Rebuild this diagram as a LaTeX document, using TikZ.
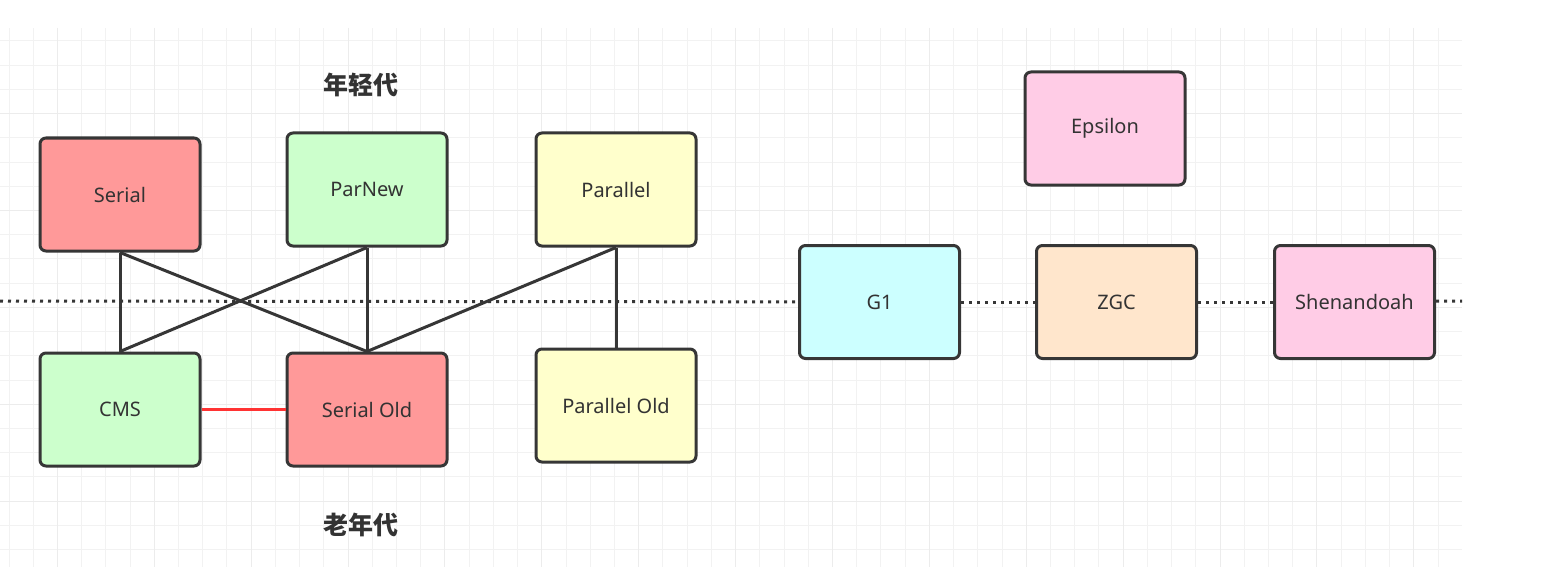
\documentclass[tikz,border=0pt]{standalone}
\usepackage{fontspec}
\setmainfont{Noto Sans}
\newfontfamily\cjk{Noto Sans CJK SC}
\usepackage{tikz}
\usetikzlibrary{positioning}
\definecolor{gcline}{RGB}{54,54,54}
\definecolor{gctext}{RGB}{51,51,51}
\definecolor{serialred}{RGB}{255,153,153}
\definecolor{pargreen}{RGB}{204,255,204}
\definecolor{paryellow}{RGB}{255,255,204}
\definecolor{epspink}{RGB}{255,204,230}
\definecolor{gonecyan}{RGB}{204,255,255}
\definecolor{zgcpeach}{RGB}{255,230,204}
\definecolor{gridminor}{RGB}{242,242,242}
\definecolor{gridmajor}{RGB}{236,236,236}
\definecolor{cmsred}{RGB}{255,51,51}

\begin{document}
\begin{tikzpicture}[x=0.5pt, y=-0.5pt,
  gc/.style={rectangle, rounded corners=3pt, draw=gcline, line width=1.5pt,
    minimum width=80pt, minimum height=56.5pt, text=gctext,
    font=\fontsize{10}{12}\selectfont},
  link/.style={draw=gcline, line width=1.5pt},
  sep/.style={draw=gcline, line width=1.5pt, dash pattern=on 1.5pt off 2.5pt},
  gen/.style={text=gctext, font=\cjk\bfseries\fontsize{12.5}{15}\selectfont}
]
  \useasboundingbox (0,0) rectangle (1541,567);

  % background grid
  \foreach \k in {0,...,59} {
    \pgfmathsetmacro\gx{9+24.22*\k}
    \draw[gridminor, line width=0.5pt] (\gx,28) -- (\gx,567);
  }
  \foreach \k in {0,...,21} {
    \pgfmathsetmacro\gy{41+24.22*\k}
    \draw[gridminor, line width=0.5pt] (0,\gy) -- (1462,\gy);
  }
  \foreach \k in {2,6,...,58} {
    \pgfmathsetmacro\gx{9+24.22*\k}
    \draw[gridmajor, line width=0.5pt] (\gx,28) -- (\gx,567);
  }
  \foreach \k in {3,7,...,19} {
    \pgfmathsetmacro\gy{41+24.22*\k}
    \draw[gridmajor, line width=0.5pt] (0,\gy) -- (1462,\gy);
  }

  \coordinate (sepl) at (0,301);
  \coordinate (sepr) at (1462,301);

  % generational collectors
  \node[gc, fill=serialred] (serial) at (120,194.5) {Serial};
  \node[gc, fill=pargreen] (parnew) at (367,189.5) {ParNew};
  \node[gc, fill=paryellow, right=43pt of parnew] (parallel) {Parallel};
  \node[gc, fill=serialred, below=52pt of parnew] (serialold) {Serial Old};
  \node[gc, fill=pargreen, left=42pt of serialold] (cms) {CMS};
  \node[gc, fill=paryellow] (parold) at (616,405.5) {Parallel Old};

  % region based collectors
  \node[gc, fill=epspink] (epsilon) at (1105,128.5) {Epsilon};
  \node[gc, fill=gonecyan] (gone) at (879.5,302) {G1};
  \node[gc, fill=zgcpeach, right=37pt of gone] (zgc) {ZGC};
  \node[gc, fill=epspink, right=37.5pt of zgc] (shen) {Shenandoah};

  \node[gen] (young) at (361,85) {年轻代};
  \node[gen] (old) at (361,525) {老年代};

  \draw[sep] (sepl) -- (gone);
  \draw[sep] (gone) -- (zgc);
  \draw[sep] (zgc) -- (shen);
  \draw[sep] (shen) -- (sepr);

  \draw[link] (serial.south) -- (cms.north);
  \draw[link] (serial.south) -- (serialold.north);
  \draw[link] (parnew.south) -- (cms.north);
  \draw[link] (parnew.south) -- (serialold.north);
  \draw[link] (parallel.south) -- (serialold.north);
  \draw[link] (parallel.south) -- (parold.north);
  \draw[link, draw=cmsred] (cms) -- (serialold);
\end{tikzpicture}
\end{document}
